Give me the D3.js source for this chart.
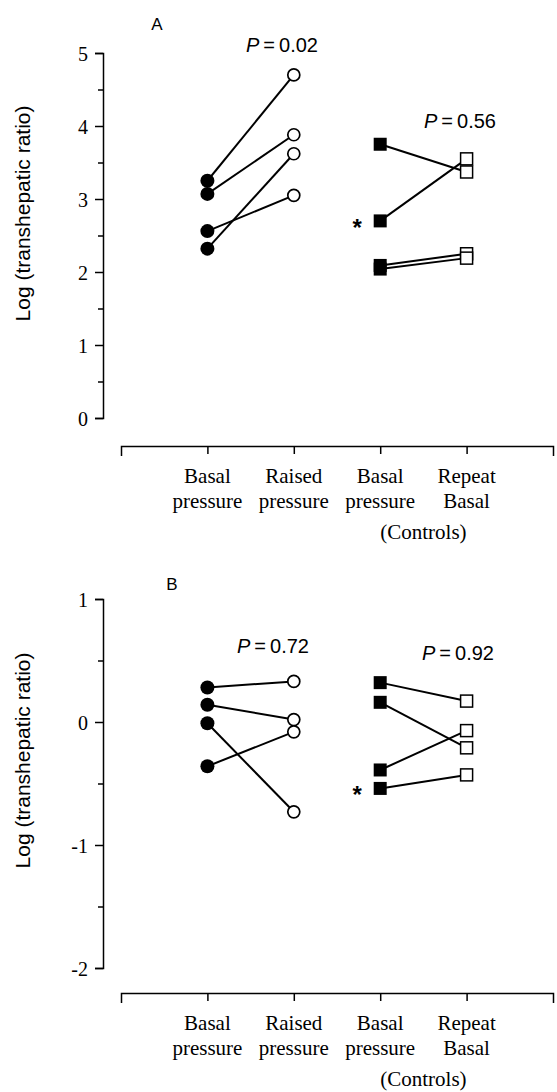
<!DOCTYPE html>
<html>
<head>
<meta charset="utf-8">
<script src="https://cdn.jsdelivr.net/npm/d3@7"></script>
<style>
  body { margin: 0; background: #fff; }
  .tick-num { font-family: "Liberation Serif", "Times New Roman", serif; font-size: 20px; }
  .cat { font-family: "Liberation Serif", "Times New Roman", serif; font-size: 21px; }
  .sans { font-family: "Liberation Sans", Arial, Helvetica, sans-serif; }
</style>
</head>
<body>
<div class="chart-container"></div>
<script>
// Categories (x axis)
const catTop = ["Basal", "Raised", "Basal", "Repeat"];
const catBottom = ["pressure", "pressure", "pressure", "Basal"];
const groupLabel = "(Controls)";

// Panel A values, paired by index (basal -> raised, control basal -> repeat)
const aBasal = [3.25, 3.07, 2.56, 2.32];
const aRaised = [4.70, 3.88, 3.05, 3.62];
const aCtrlBasal = [3.75, 2.70, 2.09, 2.04];
const aCtrlRepeat = [3.37, 3.55, 2.25, 2.19];
const aTicks = [0, 1, 2, 3, 4, 5];
const aP = ["0.02", "0.56"];
const aStar = 1;

// Panel B values
const bBasal = [0.28, 0.14, -0.01, -0.36];
const bRaised = [0.33, 0.02, -0.73, -0.08];
const bCtrlBasal = [0.32, 0.16, -0.39, -0.54];
const bCtrlRepeat = [0.17, -0.21, -0.07, -0.43];
const bTicks = [-2, -1, 0, 1];
const bP = ["0.72", "0.92"];
const bStar = 3;

const width = 557, height = 1092;
let svg = d3.select('.chart-container').append('svg')
  .attr("width", width).attr("height", height);
svg.append("rect").attr("width", width).attr("height", height).attr("fill", "#fff");

// x scale shared by both panels
const x = d3.scalePoint()
  .domain(d3.range(catTop.length))
  .range([121, 553])
  .padding(1);

function drawPanel(p) {
  const g = svg.append("g");
  const y = d3.scaleLinear().domain(p.domain).range(p.range);

  // minor ticks at halves
  const minor = d3.range(p.domain[0] + 0.5, p.domain[1], 1);
  g.append("g")
    .attr("transform", "translate(103,0)")
    .call(d3.axisLeft(y).tickValues(minor).tickSize(5).tickFormat(""))
    .call(a => a.select(".domain").remove());
  // major ticks + axis line (plain hyphen for negatives)
  g.append("g")
    .attr("transform", "translate(103,0)")
    .call(d3.axisLeft(y).tickValues(p.ticks).tickSize(8).tickSizeOuter(8).tickPadding(7).tickFormat(d => String(d)))
    .call(a => a.selectAll("text").attr("class", "tick-num").attr("font-size", null).attr("font-family", null).attr("dy", "0.36em"));
  g.selectAll(".domain, .tick line").attr("stroke", "#000").attr("stroke-width", 1.5);

  // x axis
  const xa = g.append("g")
    .attr("transform", `translate(0,${p.axisY})`)
    .call(d3.axisBottom(x).tickSize(8).tickSizeOuter(10).tickFormat(""));
  xa.selectAll(".domain, .tick line").attr("stroke", "#000").attr("stroke-width", 1.5);

  // category labels
  const labs = g.append("g").attr("class", "cat").attr("text-anchor", "middle");
  labs.selectAll("text.top").data(catTop).enter().append("text")
    .attr("x", (d, i) => x(i)).attr("y", p.axisY + 37).text(d => d);
  labs.selectAll("text.bot").data(catBottom).enter().append("text")
    .attr("x", (d, i) => x(i)).attr("y", p.axisY + 62).text(d => d);
  labs.append("text")
    .attr("x", (x(2) + x(3)) / 2).attr("y", p.axisY + 93).text(groupLabel);

  // y title
  const ty = (p.range[0] + p.range[1]) / 2 + p.titleShift;
  g.append("text").attr("class", "sans")
    .attr("transform", `translate(30,${ty}) rotate(-90)`)
    .attr("text-anchor", "middle").attr("font-size", 21)
    .text("Log (transhepatic ratio)");

  // panel letter
  g.append("text").attr("class", "sans").attr("font-size", 17)
    .attr("x", p.letterX).attr("y", p.letterY).attr("text-anchor", "middle").text(p.letter);

  // connecting lines
  const pairs = [[0, 1, p.basal, p.raised], [2, 3, p.ctrlBasal, p.ctrlRepeat]];
  pairs.forEach(([c0, c1, v0, v1]) => {
    g.append("g").selectAll("line").data(v0).enter().append("line")
      .attr("x1", x(c0)).attr("x2", x(c1))
      .attr("y1", d => y(d)).attr("y2", (d, i) => y(v1[i]))
      .attr("stroke", "#000").attr("stroke-width", 2);
  });

  // markers
  g.append("g").selectAll("circle").data(p.basal).enter().append("circle")
    .attr("cx", x(0)).attr("cy", d => y(d)).attr("r", 7).attr("fill", "#000");
  g.append("g").selectAll("circle").data(p.raised).enter().append("circle")
    .attr("cx", x(1)).attr("cy", d => y(d)).attr("r", 6).attr("fill", "#fff")
    .attr("stroke", "#000").attr("stroke-width", 1.7);
  g.append("g").selectAll("rect").data(p.ctrlBasal).enter().append("rect")
    .attr("x", x(2) - 6.5).attr("y", d => y(d) - 6.5).attr("width", 13).attr("height", 13).attr("fill", "#000");
  g.append("g").selectAll("rect").data(p.ctrlRepeat).enter().append("rect")
    .attr("x", x(3) - 6).attr("y", d => y(d) - 6).attr("width", 12).attr("height", 12).attr("fill", "#fff")
    .attr("stroke", "#000").attr("stroke-width", 1.5);

  // asterisk
  g.append("text").attr("class", "sans").attr("font-size", 24).attr("font-weight", "bold")
    .attr("text-anchor", "middle")
    .attr("x", x(2) - 23).attr("y", y(p.ctrlBasal[p.star]) + 15).text("*");

  // P values
  p.pPos.forEach((pos, i) => {
    const t = g.append("text").attr("class", "sans").attr("font-size", 20)
      .attr("x", pos[0]).attr("y", pos[1]);
    t.append("tspan").attr("font-style", "italic").text("P");
    t.append("tspan").text("\u2009=\u2009" + p.pvals[i]);
  });
}

drawPanel({
  domain: [0, 5], range: [418, 53], ticks: aTicks, axisY: 446,
  basal: aBasal, raised: aRaised, ctrlBasal: aCtrlBasal, ctrlRepeat: aCtrlRepeat,
  star: aStar, pvals: aP, pPos: [[246, 52], [424, 128]],
  letter: "A", letterX: 157, letterY: 30, titleShift: -22
});

drawPanel({
  domain: [-2, 1], range: [968, 599], ticks: bTicks, axisY: 993,
  basal: bBasal, raised: bRaised, ctrlBasal: bCtrlBasal, ctrlRepeat: bCtrlRepeat,
  star: bStar, pvals: bP, pPos: [[237, 653], [422, 660]],
  letter: "B", letterX: 172, letterY: 590, titleShift: -23
});
</script>
</body>
</html>
